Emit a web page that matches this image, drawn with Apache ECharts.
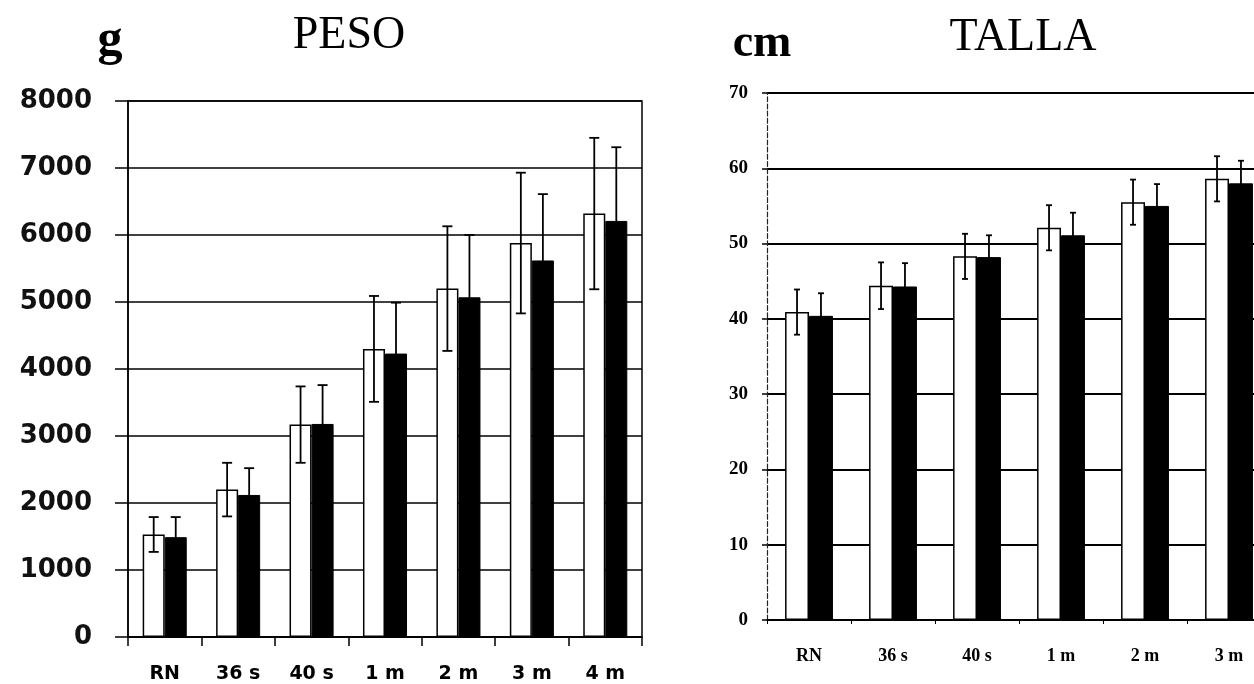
<!DOCTYPE html>
<html>
<head>
<meta charset="utf-8">
<script src="https://cdn.jsdelivr.net/npm/echarts@6/dist/echarts.min.js"></script>
<style>
html,body{margin:0;padding:0;background:#fff;}
#c{width:1254px;height:684px;}
</style>
</head>
<body>
<div id="c"></div>
<script>
// ---- Data ----
const categories = ['RN', '36 s', '40 s', '1 m', '2 m', '3 m', '4 m'];

// PESO (g)
const pesoWhite   = [1530, 2200, 3170, 4300, 5200, 5880, 6320];
const pesoWhiteSD = [260, 400, 570, 790, 930, 1050, 1130];
const pesoBlack   = [1490, 2120, 3180, 4230, 5070, 5620, 6210];
const pesoBlackSD = [300, 400, 580, 760, 930, 990, 1100];

// TALLA (cm) – last category is cut off in the picture
const tallaWhite   = [40.9, 44.4, 48.3, 52.1, 55.5, 58.6, null];
const tallaWhiteSD = [3.0, 3.1, 3.0, 3.0, 3.0, 3.0, null];
const tallaBlack   = [40.4, 44.3, 48.2, 51.1, 55.0, 58.0, null];
const tallaBlackSD = [3.0, 3.1, 2.9, 3.0, 2.9, 3.0, null];

const pesoTicks  = [0, 1000, 2000, 3000, 4000, 5000, 6000, 7000, 8000];
const tallaTicks = [0, 10, 20, 30, 40, 50, 60, 70];

// ---- helpers ----
const GAP_L = 0.40, GAP_R = 0.43;
function errData(means, sds) {
  const out = [];
  means.forEach((m, i) => { if (m != null && sds[i] != null) out.push([i, m, sds[i]]); });
  return out;
}
function errRender(sign, gap, capHalf, lw) {
  return function (params, api) {
    const i = api.value(0), v = api.value(1), sd = api.value(2);
    const band = api.size([1, 0])[0];
    const bw = band * (1 - gap) / 2;
    const c = api.coord([i, v]);
    const x = c[0] + sign * bw / 2;
    const hi = api.coord([i, v + sd])[1];
    const lo = api.coord([i, v - sd])[1];
    const st = { stroke: '#000', lineWidth: lw };
    return {
      type: 'group',
      children: [
        { type: 'line', shape: { x1: x, y1: hi, x2: x, y2: lo }, style: st },
        { type: 'line', shape: { x1: x - capHalf, y1: hi, x2: x + capHalf, y2: hi }, style: st },
        { type: 'line', shape: { x1: x - capHalf, y1: lo, x2: x + capHalf, y2: lo }, style: st }
      ]
    };
  };
}
const plain = v => String(v);

const chart = echarts.init(document.getElementById('c'), null, { renderer: 'canvas' });

const option = {
  backgroundColor: '#fff',
  animation: false,
  graphic: [
    { type: 'text', x: 110, y: 41, style: { text: 'g', font: 'bold 50px "Liberation Serif", "Times New Roman", serif', fill: '#000', align: 'center', verticalAlign: 'middle' } },
    { type: 'text', x: 349, y: 36, style: { text: 'PESO', font: '46px "Liberation Serif", "Times New Roman", serif', fill: '#000', align: 'center', verticalAlign: 'middle' } },
    { type: 'text', x: 762, y: 44, style: { text: 'cm', font: 'bold 46px "Liberation Serif", "Times New Roman", serif', fill: '#000', align: 'center', verticalAlign: 'middle' } },
    { type: 'text', x: 1023, y: 38, style: { text: 'TALLA', font: '46px "Liberation Serif", "Times New Roman", serif', fill: '#000', align: 'center', verticalAlign: 'middle' } }
  ],
  grid: [
    { left: 128, top: 101, width: 514, height: 536, show: true, borderColor: '#000', borderWidth: 1.5, backgroundColor: 'transparent', outerBoundsMode: 'none', containLabel: false },
    { left: 767, right: -101, top: 93, height: 527, show: false, outerBoundsMode: 'none', containLabel: false }
  ],
  xAxis: [
    {
      type: 'category', gridIndex: 0, data: categories,
      axisLine: { lineStyle: { color: '#000', width: 1.5 } },
      axisTick: { show: true, length: 9, lineStyle: { color: '#000', width: 1.5 } },
      axisLabel: { margin: 28, color: '#000', fontFamily: '"DejaVu Sans", sans-serif', fontWeight: 'bold', fontSize: 19 },
      splitLine: { show: false }
    },
    {
      type: 'category', gridIndex: 1, data: categories,
      axisLine: { lineStyle: { color: '#000', width: 1.5 } },
      axisTick: { show: true, length: 4, lineStyle: { color: '#000', width: 1 } },
      axisLabel: { margin: 27, color: '#000', fontFamily: '"Liberation Serif", "Times New Roman", serif', fontWeight: 'bold', fontSize: 18 },
      splitLine: { show: false }
    }
  ],
  yAxis: [
    {
      type: 'value', gridIndex: 0, min: pesoTicks[0], max: pesoTicks[pesoTicks.length - 1], interval: 1000,
      axisLine: { show: true, lineStyle: { color: '#000', width: 1.5 } },
      axisTick: { show: true, length: 13, lineStyle: { color: '#000', width: 1.5 } },
      axisLabel: { margin: 36, color: '#111', fontFamily: '"DejaVu Sans", sans-serif', fontWeight: 'bold', fontSize: 26, formatter: plain },
      splitLine: { show: true, lineStyle: { color: '#000', width: 1.5 } }
    },
    {
      type: 'value', gridIndex: 1, min: tallaTicks[0], max: tallaTicks[tallaTicks.length - 1], interval: 10,
      axisLine: { show: true, lineStyle: { color: '#222', width: 1.2, type: 'dashed' } },
      axisTick: { show: true, length: 5, lineStyle: { color: '#000', width: 1.5 } },
      axisLabel: { margin: 19, color: '#000', fontFamily: '"Liberation Serif", "Times New Roman", serif', fontWeight: 'bold', fontSize: 19, formatter: plain },
      splitLine: { show: true, lineStyle: { color: '#000', width: 1.8 } }
    }
  ],
  series: [
    { type: 'bar', xAxisIndex: 0, yAxisIndex: 0, data: pesoWhite, barGap: '0%', barCategoryGap: (GAP_L * 100) + '%',
      itemStyle: { color: '#fff', borderColor: '#000', borderWidth: 1.5 }, z: 2 },
    { type: 'bar', xAxisIndex: 0, yAxisIndex: 0, data: pesoBlack, barGap: '0%', barCategoryGap: (GAP_L * 100) + '%',
      itemStyle: { color: '#000', borderColor: '#000', borderWidth: 1 }, z: 2 },
    { type: 'custom', xAxisIndex: 0, yAxisIndex: 0, data: errData(pesoWhite, pesoWhiteSD), renderItem: errRender(-1, GAP_L, 5, 1.8), z: 5 },
    { type: 'custom', xAxisIndex: 0, yAxisIndex: 0, data: errData(pesoBlack, pesoBlackSD), renderItem: errRender(1, GAP_L, 5, 1.8), z: 5 },

    { type: 'bar', xAxisIndex: 1, yAxisIndex: 1, data: tallaWhite, barGap: '0%', barCategoryGap: (GAP_R * 100) + '%',
      itemStyle: { color: '#fff', borderColor: '#000', borderWidth: 1.5 }, z: 2 },
    { type: 'bar', xAxisIndex: 1, yAxisIndex: 1, data: tallaBlack, barGap: '0%', barCategoryGap: (GAP_R * 100) + '%',
      itemStyle: { color: '#000', borderColor: '#000', borderWidth: 1 }, z: 2 },
    { type: 'custom', xAxisIndex: 1, yAxisIndex: 1, data: errData(tallaWhite, tallaWhiteSD), renderItem: errRender(-1, GAP_R, 3, 1.8), z: 5 },
    { type: 'custom', xAxisIndex: 1, yAxisIndex: 1, data: errData(tallaBlack, tallaBlackSD), renderItem: errRender(1, GAP_R, 3, 1.8), z: 5 }
  ]
};
chart.setOption(option);
</script>
</body>
</html>
